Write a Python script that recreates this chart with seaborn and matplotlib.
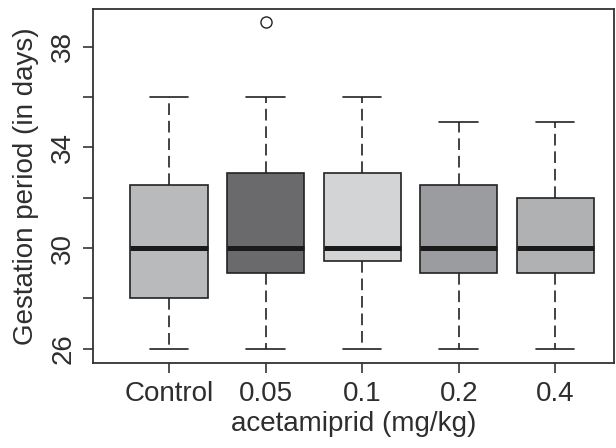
import numpy as np
import pandas as pd
import seaborn as sns
from matplotlib import pyplot as plt

# five-number summaries (gestation period, days)
groups = ["Control", "0.05", "0.1", "0.2", "0.4"]
lows = [26, 26, 26, 26, 26]
q1s = [28, 29, 29.5, 29, 29]
medians = [30, 30, 30, 30, 30]
q3s = [32.5, 33, 33, 32.5, 32]
highs = [36, 36, 36, 35, 35]
outliers = [[], [39], [], [], []]

box_colors = ["#b9babc", "#6a6a6c", "#d3d4d6", "#9b9c9f", "#b0b1b3"]
ink = "#222222"
text_ink = "#2e2e2e"

# rebuild observations that reproduce each summary
rows = []
for g, lo, a, m, b, hi, out in zip(groups, lows, q1s, medians, q3s, highs, outliers):
    for v in [lo, a, a, m, m, b, b, hi] + out:
        rows.append({"dose": g, "days": v})
df = pd.DataFrame(rows)

sns.set_style("ticks")
plt.rcParams["font.family"] = ["Liberation Sans", "DejaVu Sans"]

fig = plt.figure(figsize=(6.16, 4.48), dpi=100)
ax = fig.add_axes([0.151, 0.190, 0.846, 0.790])

sns.boxplot(data=df, x="dose", y="days", hue="dose", order=groups, hue_order=groups,
            palette=dict(zip(groups, box_colors)), saturation=1, legend=False,
            width=0.8, whis=1.2, linecolor=ink, linewidth=1.2,
            whiskerprops=dict(linestyle=(0, (7, 3.5))),
            medianprops=dict(linewidth=3.6, color="#1a1a1a"),
            flierprops=dict(marker="o", markersize=8, markerfacecolor="none",
                            markeredgecolor=ink, markeredgewidth=1.0),
            ax=ax)

ax.set_xlim(-0.788, 4.611)
ax.set_ylim(25.44, 39.5)

yt = np.arange(26, 39, 2)
ax.set_yticks(yt)
ax.set_yticklabels([str(t) if t in (26, 30, 34, 38) else "" for t in yt],
                   rotation=90, va="center")

ax.tick_params(axis="both", direction="out", length=7, width=1.1, color=ink,
               labelsize=20, labelcolor=text_ink)
ax.tick_params(axis="x", pad=6)
ax.tick_params(axis="y", pad=5)
ax.set_xlabel("acetamiprid (mg/kg)", fontsize=20, color=text_ink, labelpad=3)
ax.set_ylabel("Gestation period (in days)", fontsize=20, color=text_ink, labelpad=8)

for s in ax.spines.values():
    s.set_visible(True)
    s.set_color("#333333")
    s.set_linewidth(1.3)

fig.savefig("out.png", dpi=100)
